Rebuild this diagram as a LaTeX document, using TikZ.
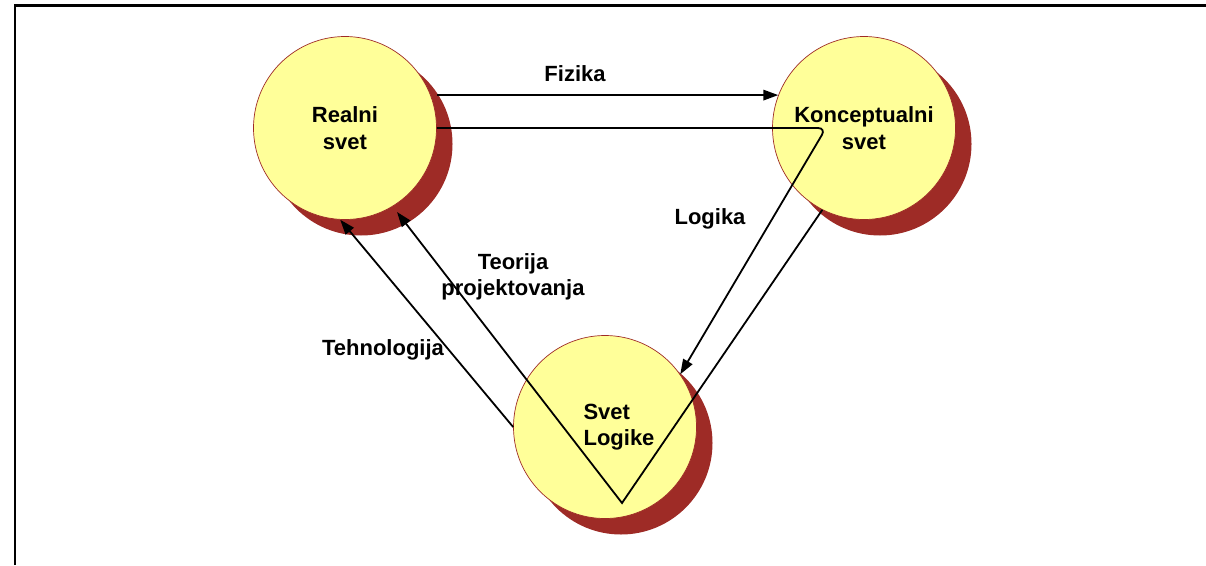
\documentclass[tikz,border=0pt]{standalone}
\usepackage{fontspec}
\setmainfont{Liberation Sans}
\usetikzlibrary{arrows.meta,shadows}

\definecolor{worldfill}{RGB}{255,255,153}
\definecolor{worldshadow}{RGB}{158,43,38}

\tikzset{
  world/.style={circle, minimum size=183pt, inner sep=0pt, fill=worldfill,
    draw=worldshadow, line width=0.7pt, align=center,
    font=\fontsize{22}{26.5}\selectfont\bfseries,
    drop shadow={shadow xshift=16pt, shadow yshift=-16pt, opacity=1, fill=worldshadow}},
  lbl/.style={font=\fontsize{22}{26.5}\selectfont\bfseries, align=center},
  conn/.style={->, line width=1.8pt}
}

\begin{document}
\begin{tikzpicture}[x=1pt,y=-1pt,>={Triangle[length=15pt,width=10.5pt]}]
    \useasboundingbox (0,0) rectangle (1206,565);

    % frame
    \draw[line width=2.5pt] (15,565) -- (15,5.7) -- (1206,5.7);

    % the three worlds
    \node[world] (realni) at (345,128) {Realni\\svet};
    \node[world] (konc) at (864,128) {Konceptualni\\svet};
    \node[world] (logike) at (605,427) {};
    \node[lbl, align=left] (logiketxt) at ([xshift=14pt]logike.center) {Svet\\Logike};

    % Fizika
    \draw[conn] (realni.east |- konc.159) -- (konc.159);
    \node[lbl] (fizika) at (575,74) {Fizika};

    % Logika
    \draw[conn, rounded corners=8pt] (realni.east) -- ([xshift=-38pt]konc.center) -- (logike.35);
    \node[lbl] (logika) at (710,219) {Logika};

    % Teorija projektovanja
    \coordinate (apex) at ([xshift=17pt,yshift=-76pt]logike.center);
    \draw[conn] (konc.243) -- (apex) -- ([xshift=52pt,yshift=-84pt]realni.center);
    \node[lbl] (teorija) at (513,277) {Teorija\\projektovanja};

    % Tehnologija
    \draw[conn] (logike.west) -- (realni.-93);
    \node[lbl] (tehnologija) at (383,350) {Tehnologija};
\end{tikzpicture}
\end{document}
